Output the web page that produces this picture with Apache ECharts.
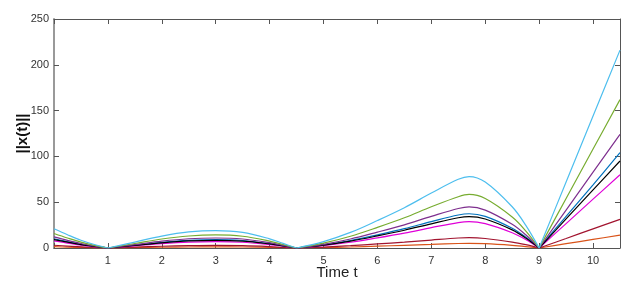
<!DOCTYPE html>
<html><head><meta charset="utf-8">
<script src="https://cdn.jsdelivr.net/npm/echarts@6/dist/echarts.min.js"></script>
<style>html,body{margin:0;padding:0;background:#fff}#c{width:642px;height:289px}</style>
</head><body><div id="c"></div>
<script>
var t = [0, 0.25, 0.5, 0.75, 1, 1.5, 2, 2.5, 3, 3.5, 4, 4.25, 4.5, 5, 5.5, 6, 6.5, 7, 7.5, 7.7, 8, 8.5, 8.75, 9, 9.5, 10, 10.5];
var cusps = [1, 4.5, 9];
var cyan    = [21, 14.5, 8.5, 3.8, 0, 6.5, 13, 17.5, 19, 17, 10, 5, 0, 7, 17, 30, 44, 60, 75, 78, 72, 45, 25, 0, 72, 144, 216];
var green   = [15.8, 10.9, 6.4, 2.9, 0, 4.9, 9.8, 13.1, 14.3, 12.8, 7.5, 3.8, 0, 5.3, 12.8, 22.5, 33, 45, 56, 58.5, 54, 33.8, 18.8, 0, 54, 108, 162];
var purple  = [12.1, 8.3, 4.9, 2.2, 0, 3.7, 7.5, 10.1, 10.9, 9.8, 5.8, 2.9, 0, 4, 9.8, 17.3, 25.3, 34.5, 43.1, 44.9, 41.4, 25.9, 14.4, 0, 41.4, 82.8, 124];
var blue    = [10.1, 7, 4.1, 1.8, 0, 3.1, 6.2, 8.4, 9.1, 8.2, 4.8, 2.4, 0, 3.4, 8.2, 14.4, 21.1, 28.8, 36, 37.4, 34.6, 21.6, 12, 0, 34.6, 69, 104];
var black   = [9.2, 6.4, 3.7, 1.7, 0, 2.9, 5.7, 7.7, 8.4, 7.5, 4.4, 2.2, 0, 3.1, 7.5, 13.2, 19.4, 26.4, 33, 34.3, 31.7, 19.8, 11, 0, 31.7, 63.4, 95];
var magenta = [7.8, 5.4, 3.1, 1.4, 0, 2.4, 4.8, 6.5, 7, 6.3, 3.7, 1.9, 0, 2.6, 6.3, 11.1, 16.3, 22.2, 27.8, 28.9, 26.6, 16.7, 9.3, 0, 26.6, 53.3, 80];
var darkred = [3, 2.1, 1.2, 0.6, 0, 0.9, 1.9, 2.5, 2.8, 2.5, 1.5, 0.7, 0, 1, 2.5, 4.4, 6.4, 8.7, 10.9, 11.3, 10.4, 6.5, 3.6, 0, 10.4, 20.9, 31.3];
var orange  = [1.4, 0.9, 0.6, 0.2, 0, 0.4, 0.8, 1.1, 1.2, 1.1, 0.7, 0.3, 0, 0.5, 1.1, 2, 2.9, 3.9, 4.9, 5.1, 4.7, 2.9, 1.6, 0, 4.7, 9.4, 14];
var yTicks = [0, 50, 100, 150, 200, 250];

var seriesDefs = [
  ['orange', orange, '#D95319'],
  ['darkred', darkred, '#A2142F'],
  ['magenta', magenta, '#E000D8'],
  ['blue', blue, '#0072BD'],
  ['black', black, '#000000'],
  ['purple', purple, '#7E2F8E'],
  ['green', green, '#77AC30'],
  ['cyan', cyan, '#4DBEEE']
];
function build(vals) {
  var out = [];
  t.forEach(function (x, i) {
    out.push([x, vals[i]]);
    if (cusps.indexOf(x) >= 0) { out.push([x, '-']); out.push([x, vals[i]]); }
  });
  return out;
}
var font = 'Liberation Sans, Arial, sans-serif';
var chart = echarts.init(document.getElementById('c'), null, {renderer: 'canvas'});
var axLine = {show: true, onZero: false, lineStyle: {color: '#555', width: 1}};
var tick = {inside: true, length: 5, lineStyle: {color: '#555'}};
chart.setOption({
  animation: false,
  grid: {left: 54, right: 22, top: 19, bottom: 41, containLabel: false, outerBoundsMode: 'none'},
  xAxis: [{
    type: 'value', min: 0, max: 10.5, interval: 1, position: 'bottom',
    name: 'Time t', nameLocation: 'middle', nameGap: 17, nameMoveOverlap: false,
    nameTextStyle: {fontFamily: font, fontSize: 15, color: '#222'},
    axisLine: axLine, axisTick: tick,
    axisLabel: {fontFamily: font, fontSize: 11, color: '#333', margin: 7, showMaxLabel: false,
      formatter: function (v) { return v === 0 ? '' : String(v); }},
    splitLine: {show: false}
  }, {
    type: 'value', min: 0, max: 10.5, interval: 1, position: 'top',
    axisLine: axLine, axisTick: tick,
    axisLabel: {show: false}, splitLine: {show: false}
  }],
  yAxis: [{
    type: 'value', min: yTicks[0], max: yTicks[yTicks.length - 1], interval: 50, position: 'left',
    name: '||x(t)||', nameLocation: 'middle', nameGap: 24, nameMoveOverlap: false,
    nameTextStyle: {fontFamily: font, fontSize: 15, fontWeight: 'bold', color: '#111'},
    axisLine: {show: true, onZero: false, lineStyle: {color: '#999', width: 2}},
    axisTick: tick,
    axisLabel: {fontFamily: font, fontSize: 11, color: '#333', margin: 5},
    splitLine: {show: false}
  }, {
    type: 'value', min: 0, max: 250, interval: 50, position: 'right',
    axisLine: axLine, axisTick: tick,
    axisLabel: {show: false}, splitLine: {show: false}
  }],
  series: seriesDefs.map(function (d) {
    return {
      name: d[0], type: 'line', xAxisIndex: 0, yAxisIndex: 0,
      data: build(d[1]), connectNulls: false,
      smooth: 0.35, symbol: 'none',
      lineStyle: {color: d[2], width: 1.2}, itemStyle: {color: d[2]}
    };
  })
});
</script></body></html>
